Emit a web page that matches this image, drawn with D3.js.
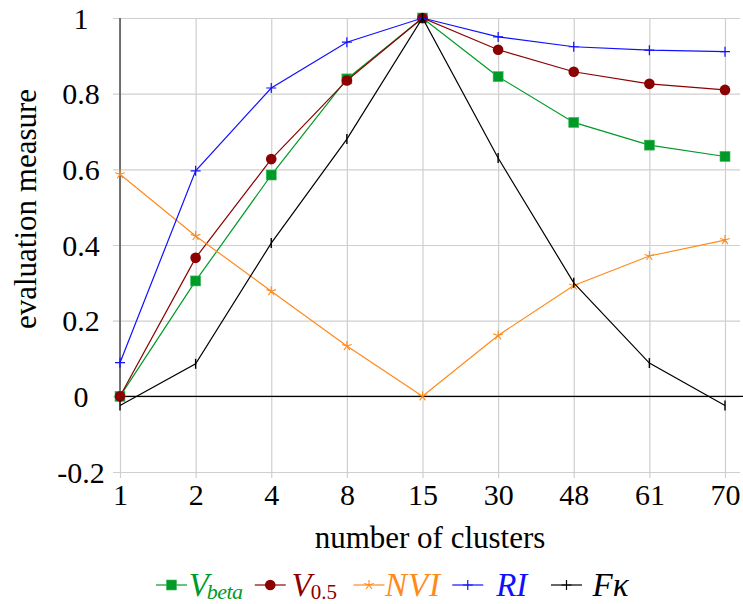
<!DOCTYPE html>
<html>
<head>
<meta charset="utf-8">
<script src="https://cdn.jsdelivr.net/npm/d3@7"></script>
<style>
  body { margin: 0; background: #fff; }
</style>
</head>
<body>
<div id="chart"></div>
<script>
// Data
const clusters = ['1', '2', '4', '8', '15', '30', '48', '61', '70'];
const vBeta = [0, 0.305, 0.585, 0.839, 1.0, 0.845, 0.724, 0.664, 0.634];
const vHalf = [0, 0.366, 0.627, 0.835, 1.0, 0.916, 0.858, 0.826, 0.81];
const nvi   = [0.587, 0.424, 0.278, 0.133, 0, 0.161, 0.293, 0.371, 0.413];
const ri    = [0.089, 0.596, 0.815, 0.936, 1.0, 0.95, 0.924, 0.915, 0.911];
const fKappa = [-0.024, 0.086, 0.405, 0.68, 1.0, 0.63, 0.30, 0.088, -0.024];
const yTickValues = [-0.2, 0, 0.2, 0.4, 0.6, 0.8, 1];
const yTickLabels = ['-0.2', '0', '0.2', '0.4', '0.6', '0.8', '1'];

const width = 743;
const height = 604;
const serif = "'Liberation Serif', 'Times New Roman', serif";

const svg = d3.select('#chart')
    .append('svg')
    .attr('width', width)
    .attr('height', height)
    .style('font-family', serif);

// Scales
const x = d3.scalePoint().domain(clusters).range([120, 725]);
const y = d3.scaleLinear().domain([-0.2, 1]).range([472, 18]);

// Grid (drawn via axes with long ticks)
const yAxis = svg.append('g')
    .attr('transform', 'translate(113,0)')
    .call(d3.axisLeft(y)
        .tickValues(yTickValues)
        .tickFormat((d, i) => yTickLabels[i])
        .tickSizeInner(-627)
        .tickSizeOuter(0));
yAxis.select('.domain').remove();
yAxis.selectAll('line').attr('stroke', '#cfcfcf').attr('stroke-width', 1.2);
yAxis.selectAll('text')
    .attr('x', -32)
    .attr('dy', '0.34em')
    .attr('text-anchor', 'middle')
    .style('font-family', serif)
    .style('font-size', '30px')
    .attr('fill', '#000');

const xAxis = svg.append('g')
    .attr('transform', 'translate(0,478)')
    .call(d3.axisBottom(x)
        .tickSizeInner(-460)
        .tickSizeOuter(0));
xAxis.select('.domain').remove();
xAxis.selectAll('line').attr('stroke', '#cfcfcf').attr('stroke-width', 1.2);
xAxis.selectAll('text')
    .attr('y', 27)
    .attr('dy', 0)
    .style('font-family', serif)
    .style('font-size', '30px')
    .attr('fill', '#000');

// Axis lines (middle style)
svg.append('line')
    .attr('x1', x('1')).attr('x2', x('1'))
    .attr('y1', y(1)).attr('y2', y(0))
    .attr('stroke', '#555').attr('stroke-width', 1.6);
svg.append('line')
    .attr('x1', x('1')).attr('x2', width)
    .attr('y1', y(0)).attr('y2', y(0))
    .attr('stroke', '#000').attr('stroke-width', 1.2);

// Axis labels
svg.append('text')
    .attr('x', 430)
    .attr('y', 548)
    .attr('text-anchor', 'middle')
    .style('font-size', '31px')
    .text('number of clusters');

svg.append('text')
    .attr('transform', 'translate(36,209) rotate(-90)')
    .attr('text-anchor', 'middle')
    .style('font-size', '31px')
    .text('evaluation measure');

// Marker drawing
function drawMarker(g, type, color) {
    if (type === 'square') {
        g.append('rect').attr('x', -5).attr('y', -5).attr('width', 10).attr('height', 10)
            .attr('fill', color).attr('stroke', '#3fb85a').attr('stroke-width', 0.6);
    } else if (type === 'circle') {
        g.append('circle').attr('r', 5.3).attr('fill', color);
    } else if (type === 'star') {
        const r = 5;
        let p = '';
        for (let k = 0; k < 5; k++) {
            const a = -Math.PI / 2 + k * 2 * Math.PI / 5;
            p += `M0,0L${r * Math.cos(a)},${r * Math.sin(a)}`;
        }
        g.append('path').attr('d', p).attr('stroke', color).attr('stroke-width', 1.1).attr('fill', 'none');
    } else if (type === 'plus') {
        g.append('path').attr('d', 'M-5,0H5M0,-5V5').attr('stroke', color).attr('stroke-width', 1.2);
    } else if (type === 'bar') {
        g.append('path').attr('d', 'M0,-5V5').attr('stroke', color).attr('stroke-width', 1.4);
    }
}

const series = [
    { name: 'vbeta', values: vBeta, color: '#009a28', marker: 'square' },
    { name: 'vhalf', values: vHalf, color: '#8b0000', marker: 'circle' },
    { name: 'nvi', values: nvi, color: '#ff8a1c', marker: 'star' },
    { name: 'ri', values: ri, color: '#1010ff', marker: 'plus' },
    { name: 'fk', values: fKappa, color: '#000000', marker: 'bar' }
];

const line = d3.line()
    .x((d, i) => x(clusters[i]))
    .y(d => y(d));

series.forEach(s => {
    const g = svg.append('g').attr('class', 'series-' + s.name);
    g.append('path')
        .attr('d', line(s.values))
        .attr('fill', 'none')
        .attr('stroke', s.color)
        .attr('stroke-width', 1.2);
    s.values.forEach((v, i) => {
        const m = g.append('g').attr('transform', `translate(${x(clusters[i])},${y(v)})`);
        drawMarker(m, s.marker, s.color);
    });
});

// Legend (equal-width cells, text centred in each cell)
const legend = svg.append('g').attr('class', 'legend');
const legendY = 585;
const legendStart = 156;
const legendStep = 98.75;
series.forEach((s, i) => {
    const lx = legendStart + i * legendStep;
    const item = legend.append('g');
    item.append('line')
        .attr('x1', lx).attr('x2', lx + 31)
        .attr('y1', legendY).attr('y2', legendY)
        .attr('stroke', s.color).attr('stroke-width', 1.2);
    const m = item.append('g').attr('transform', `translate(${lx + 15.5},${legendY})`);
    drawMarker(m, s.marker === 'bar' ? 'plus' : s.marker, s.color);
    const t = item.append('text')
        .attr('x', lx + 59.5)
        .attr('y', legendY + 11)
        .attr('text-anchor', 'middle')
        .attr('fill', s.color)
        .style('font-size', '33px')
        .style('font-style', 'italic');
    if (s.name === 'vbeta') {
        t.append('tspan').text('V');
        t.append('tspan').attr('dy', 3).attr('dx', -2).style('font-size', '22px')
            .style('letter-spacing', '-0.6px').text('beta');
    } else if (s.name === 'vhalf') {
        t.append('tspan').text('V');
        t.append('tspan').attr('dy', 3).attr('dx', -1).style('font-size', '21px')
            .style('font-style', 'normal').text('0.5');
    } else if (s.name === 'nvi') {
        t.text('NVI').style('letter-spacing', '1px');
    } else if (s.name === 'ri') {
        t.text('RI');
    } else {
        t.text('Fκ');
    }
});
</script>
</body>
</html>
